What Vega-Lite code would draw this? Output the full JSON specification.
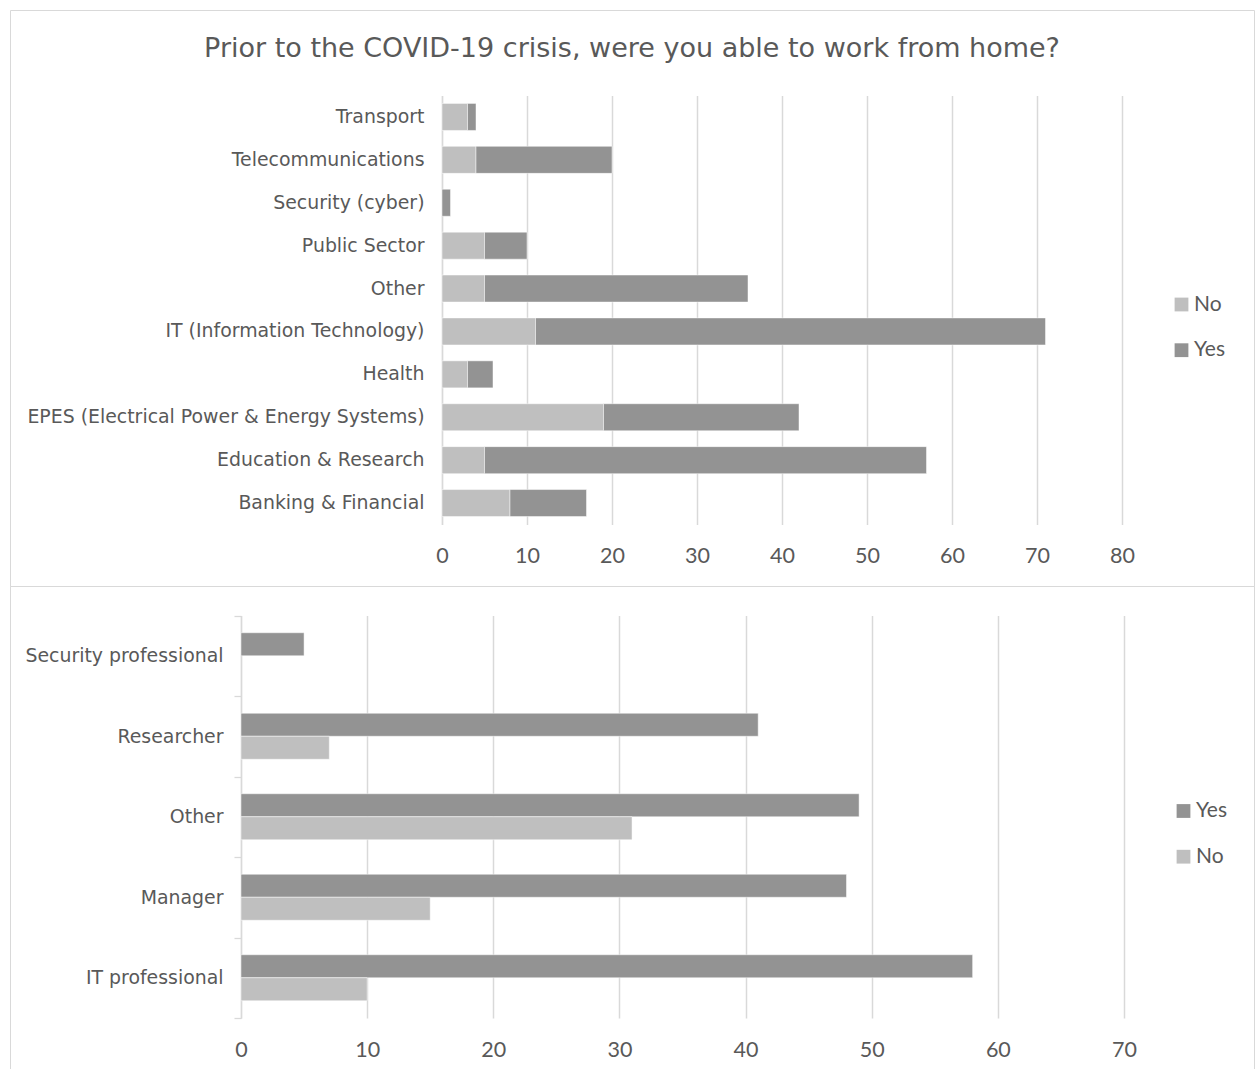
{
  "$schema": "https://vega.github.io/schema/vega-lite/v6.json",
  "background": "white",
  "padding": {"left": 9, "top": 9, "right": 0, "bottom": 0},
  "spacing": 0,
  "bounds": "flush",
  "config": {
    "view": {"stroke": "#d9d9d9", "strokeWidth": 1},
    "axis": {"labelColor": "#595959", "title": null},
    "legend": {"labelColor": "#595959"}
  },
  "vconcat": [
    {
      "width": 1244,
      "height": 576,
      "title": {
        "text": "Prior to the COVID-19 crisis, were you able to work from home?",
        "font": "DejaVu Sans",
        "fontSize": 27,
        "fontWeight": "normal",
        "color": "#595959",
        "anchor": "middle",
        "frame": "group",
        "baseline": "middle",
        "offset": -66
      },
      "data": {
        "values": [
          {"sector": "Transport", "answer": "No", "count": 3},
          {"sector": "Transport", "answer": "Yes", "count": 1},
          {"sector": "Telecommunications", "answer": "No", "count": 4},
          {"sector": "Telecommunications", "answer": "Yes", "count": 16},
          {"sector": "Security (cyber)", "answer": "Yes", "count": 1},
          {"sector": "Public Sector", "answer": "No", "count": 5},
          {"sector": "Public Sector", "answer": "Yes", "count": 5},
          {"sector": "Other", "answer": "No", "count": 5},
          {"sector": "Other", "answer": "Yes", "count": 31},
          {"sector": "IT (Information Technology)", "answer": "No", "count": 11},
          {"sector": "IT (Information Technology)", "answer": "Yes", "count": 60},
          {"sector": "Health", "answer": "No", "count": 3},
          {"sector": "Health", "answer": "Yes", "count": 3},
          {"sector": "EPES (Electrical Power & Energy Systems)", "answer": "No", "count": 19},
          {"sector": "EPES (Electrical Power & Energy Systems)", "answer": "Yes", "count": 23},
          {"sector": "Education & Research", "answer": "No", "count": 5},
          {"sector": "Education & Research", "answer": "Yes", "count": 52},
          {"sector": "Banking & Financial", "answer": "No", "count": 8},
          {"sector": "Banking & Financial", "answer": "Yes", "count": 9}
        ]
      },
      "mark": {"type": "bar", "stroke": "#ffffff", "strokeWidth": 0.8, "strokeOpacity": 0.6},
      "encoding": {
        "y": {
          "field": "sector",
          "type": "nominal",
          "sort": ["Transport", "Telecommunications", "Security (cyber)", "Public Sector", "Other", "IT (Information Technology)", "Health", "EPES (Electrical Power & Energy Systems)", "Education & Research", "Banking & Financial"],
          "scale": {"range": [85.5, 514.5], "paddingInner": 0.37, "paddingOuter": 0.185},
          "axis": {
            "offset": -432,
            "ticks": false,
            "grid": false,
            "domain": true,
            "domainColor": "#d9d9d9",
            "domainWidth": 1.3,
            "labelPadding": 18,
            "labelFont": "DejaVu Sans",
            "labelFontSize": 18.9,
            "labelLimit": 0
          }
        },
        "x": {
          "field": "count",
          "type": "quantitative",
          "stack": "zero",
          "scale": {"domain": [0, 80], "range": [432, 1112], "nice": false},
          "axis": {
            "orient": "top",
            "values": [0, 10, 20, 30, 40, 50, 60, 70, 80],
            "offset": -514.5,
            "domain": false,
            "ticks": false,
            "grid": true,
            "gridColor": "#d9d9d9",
            "gridWidth": 1.5,
            "labelPadding": -32,
            "labelBaseline": "middle",
            "labelFlush": false,
            "labelFont": "Lato",
            "labelFontSize": 21.5
          }
        },
        "color": {
          "field": "answer",
          "type": "nominal",
          "scale": {"domain": ["No", "Yes"], "range": ["#bfbfbf", "#939393"]},
          "legend": {
            "title": null,
            "orient": "none",
            "legendX": 1161,
            "legendY": 284,
            "direction": "vertical",
            "padding": 0,
            "symbolType": "square",
            "symbolSize": 190,
            "symbolStrokeWidth": 0,
            "labelFont": "Lato",
            "labelFontSize": 21,
            "labelOffset": 2,
            "rowPadding": 23.7
          }
        }
      }
    },
    {
      "width": 1244,
      "height": 490,
      "data": {
        "values": [
          {"role": "Security professional", "answer": "Yes", "count": 5},
          {"role": "Researcher", "answer": "Yes", "count": 41},
          {"role": "Researcher", "answer": "No", "count": 7},
          {"role": "Other", "answer": "Yes", "count": 49},
          {"role": "Other", "answer": "No", "count": 31},
          {"role": "Manager", "answer": "Yes", "count": 48},
          {"role": "Manager", "answer": "No", "count": 15},
          {"role": "IT professional", "answer": "Yes", "count": 58},
          {"role": "IT professional", "answer": "No", "count": 10}
        ]
      },
      "mark": {"type": "bar", "stroke": "#ffffff", "strokeWidth": 0.8, "strokeOpacity": 0.6},
      "encoding": {
        "y": {
          "field": "role",
          "type": "nominal",
          "sort": ["Security professional", "Researcher", "Other", "Manager", "IT professional"],
          "scale": {"range": [29.5, 432], "paddingInner": 0, "paddingOuter": 0},
          "axis": {
            "offset": -231,
            "ticks": true,
            "tickBand": "extent",
            "tickSize": 7,
            "tickColor": "#d9d9d9",
            "tickWidth": 1.3,
            "grid": false,
            "domain": true,
            "domainColor": "#d9d9d9",
            "domainWidth": 1.3,
            "labelPadding": 11,
            "labelFont": "DejaVu Sans",
            "labelFontSize": 18.9,
            "labelLimit": 0
          }
        },
        "yOffset": {
          "field": "answer",
          "type": "nominal",
          "sort": ["Yes", "No"],
          "scale": {"paddingInner": 0, "paddingOuter": 0.75}
        },
        "x": {
          "field": "count",
          "type": "quantitative",
          "scale": {"domain": [0, 70], "range": [231, 1114], "nice": false},
          "axis": {
            "orient": "top",
            "values": [0, 10, 20, 30, 40, 50, 60, 70],
            "offset": -432,
            "domain": false,
            "ticks": false,
            "grid": true,
            "gridColor": "#d9d9d9",
            "gridWidth": 1.5,
            "labelPadding": -32,
            "labelBaseline": "middle",
            "labelFlush": false,
            "labelFont": "Lato",
            "labelFontSize": 21.5
          }
        },
        "color": {
          "field": "answer",
          "type": "nominal",
          "scale": {"domain": ["Yes", "No"], "range": ["#939393", "#bfbfbf"]},
          "legend": {
            "title": null,
            "orient": "none",
            "legendX": 1163,
            "legendY": 214.5,
            "direction": "vertical",
            "padding": 0,
            "symbolType": "square",
            "symbolSize": 190,
            "symbolStrokeWidth": 0,
            "labelFont": "Lato",
            "labelFontSize": 21,
            "labelOffset": 2,
            "rowPadding": 23.7
          }
        }
      }
    }
  ],
  "resolve": {"scale": {"color": "independent", "x": "independent", "y": "independent"}}
}
